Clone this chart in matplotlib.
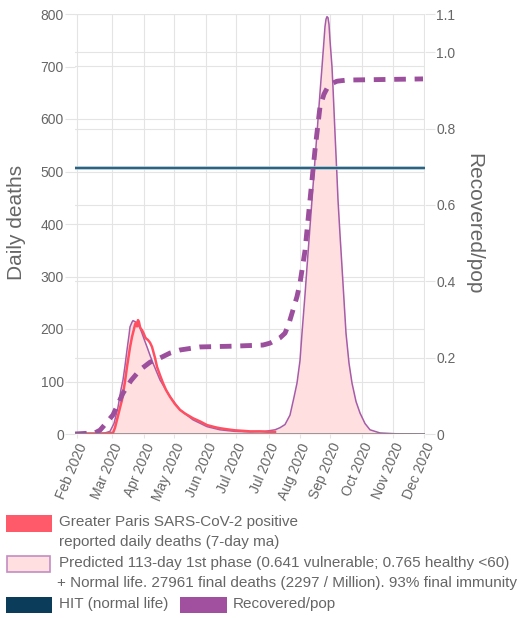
import numpy as np
import matplotlib.pyplot as plt
from matplotlib.patches import Rectangle

plt.rcParams['font.family'] = ['Liberation Sans', 'DejaVu Sans']

# x axis is in days from the first plotted day
tick_days = [2, 37, 69, 99, 131, 161, 194, 225, 255, 287, 318, 349]
tick_labels = ['Feb 2020', 'Mar 2020', 'Apr 2020', 'May 2020', 'Jun 2020', 'Jul 2020',
               'Jul 2020', 'Aug 2020', 'Sep 2020', 'Oct 2020', 'Nov 2020', 'Dec 2020']

# reported daily deaths (7-day ma)
obs_days = [0, 30, 36, 38, 40, 42, 45, 47, 50, 52, 55, 57, 59, 60, 61, 62, 63, 64, 65, 66,
            67, 69, 70, 71, 73, 75, 77, 80, 82, 85, 88, 91, 95, 100, 105, 110, 118, 125,
            132, 140, 145, 152, 160, 168, 175, 185, 195, 200]
obs_deaths = [1, 1, 2, 2, 12, 27, 50, 65, 100, 128, 165, 185, 200, 208, 212, 205, 217, 213, 204, 200,
              198, 190, 185, 182, 179, 174, 166, 145, 128, 112, 97, 84, 71, 57, 46, 39, 30, 24,
              17, 13, 11, 9, 7, 6, 5, 5, 4, 4]

# predicted daily deaths
pred_days = [0, 25, 30, 35, 39, 43, 46, 48, 50, 52, 54, 55, 57, 58, 60, 62, 65, 67, 70, 72,
             75, 78, 85, 95, 105, 118, 132, 145, 160, 175, 190, 200, 205, 210, 215, 219, 222,
             225, 227, 230, 232, 235, 237, 240, 242, 245, 247, 249, 250, 251, 252, 253, 254,
             255, 257, 258, 260, 262, 263, 265, 267, 269, 271, 274, 277, 281, 285, 290, 295,
             305, 320, 350]
pred_deaths = [0.5, 1, 2, 5, 20, 51, 85, 103, 130, 160, 188, 204, 213, 216, 214, 211, 202, 192, 176, 166,
               150, 135, 103, 71, 46, 27, 14, 8, 5, 4, 5, 8, 12, 18, 36, 70, 97, 140, 192, 265, 318,
               395, 446, 522, 573, 650, 699, 750, 776, 790, 795, 793, 780, 750, 699, 660, 573, 490,
               446, 380, 318, 255, 192, 135, 97, 62, 40, 20, 8, 2, 0.5, 0]

# recovered share of population (right axis)
rec_days = [0, 20, 25, 30, 38, 48, 56, 65, 75, 85, 95, 105, 125, 158, 188, 195, 205, 210, 214,
            218, 222, 225, 230, 235, 240, 245, 249, 252, 257, 262, 272, 348]
rec_share = [0, 0.003, 0.01, 0.025, 0.05, 0.107, 0.14, 0.168, 0.188, 0.199, 0.212, 0.22, 0.228, 0.23,
             0.233, 0.238, 0.252, 0.264, 0.29, 0.325, 0.36, 0.395, 0.48, 0.613, 0.744, 0.857, 0.89,
             0.905, 0.918, 0.924, 0.927, 0.93]

hit_days = [0, 350]
hit_deaths = [507, 507]

grey = '#666666'
grid_c = '#e4e4e4'

fig = plt.figure(figsize=(5.32, 6.18), dpi=100)
ax2 = fig.add_axes([75 / 532, 1 - 434 / 618, 350 / 532, 420 / 618])
ax = fig.add_axes([75 / 532, 1 - 434 / 618, 350 / 532, 420 / 618], sharex=ax2)
ax2.yaxis.tick_right()
ax.patch.set_visible(False)

ax.set_xlim(0, 350)
ax.set_ylim(0, 800)
ax2.set_ylim(0, 1.1)

# gridlines, all behind the data
ax2.set_yticks([0, 0.2, 0.4, 0.6, 0.8, 1.0, 1.1])
ax2.set_yticklabels(['0', '0.2', '0.4', '0.6', '0.8', '1.0', '1.1'])
ax2.grid(True, axis='y', color=grid_c, lw=0.8)
ax2.grid(True, axis='x', color=grid_c, lw=0.8)
ax2.set_xticks(tick_days)
for yv in range(100, 900, 100):
    ax2.axhline(yv * 1.1 / 800, color=grid_c, lw=0.8, zorder=0.5)

ax.fill_between(pred_days, pred_deaths, color='#ffdfe0', lw=0, zorder=1)
ax.plot(pred_days, pred_deaths, color='#a65ca8', lw=1.1, zorder=2)
ax.plot(obs_days, obs_deaths, color='#ff4f60', lw=1.8, zorder=3)
ax.plot(hit_days, hit_deaths, color='#9cc3d6', lw=2.6, zorder=4, solid_capstyle='butt')
ax.plot(hit_days, hit_deaths, color='#1f4e6b', lw=1.2, zorder=4, solid_capstyle='butt')
ax.plot(rec_days, rec_share, color='#9c4f9c', lw=3.5, dashes=(2.4, 1.8), zorder=5,
        transform=ax2.transData)

ax.set_yticks(range(0, 900, 100))
ax.set_xticks(tick_days)
ax.set_xticklabels(tick_labels, rotation=67, ha='right', va='top', rotation_mode='anchor')

for a in (ax, ax2):
    for s in a.spines.values():
        s.set_visible(False)
ax.axhline(0, color='#8a8a8a', lw=1.2, zorder=6)

ax.tick_params(axis='y', length=7, color=grid_c, labelcolor=grey, labelsize=10, pad=1)
ax.tick_params(axis='x', length=3, color=grid_c, labelcolor=grey, labelsize=10, pad=2)
ax2.tick_params(axis='y', length=7, color=grid_c, labelcolor=grey, labelsize=10, pad=1)
ax2.tick_params(axis='x', length=0, labelbottom=False)

fig.text(17 / 532, 1 - 222 / 618, 'Daily deaths', rotation=90, ha='center', va='center',
         fontsize=15, color=grey)
fig.text(474 / 532, 1 - 224 / 618, 'Recovered/pop', rotation=270, ha='center', va='center',
         fontsize=15, color=grey)

# legend drawn under the plot
def box(x0, y0, x1, y1, fc, ec='none', lw=0):
    fig.add_artist(Rectangle((x0 / 532, 1 - y1 / 618), (x1 - x0) / 532, (y1 - y0) / 618,
                             transform=fig.transFigure, facecolor=fc, edgecolor=ec, lw=lw))

def label(x, y, s):
    fig.text(x / 532, 1 - y / 618, s, ha='left', va='center', fontsize=11, color=grey)

box(6, 515, 52, 532, '#ff5a6a')
label(59, 522, 'Greater Paris SARS-CoV-2 positive')
label(59, 542, 'reported daily deaths (7-day ma)')
box(7, 556, 50, 572, '#ffdfe0', '#c48cc4', 1.2)
label(59, 563, 'Predicted 113-day 1st phase (0.641 vulnerable; 0.765 healthy <60)')
label(57, 583, '+ Normal life. 27961 final deaths (2297 / Million). 93% final immunity')
box(6, 597, 52, 613, '#0b3d5b')
label(59, 604, 'HIT (normal life)')
box(180, 597, 227, 613, '#a0509e')
label(233, 604, 'Recovered/pop')

fig.savefig('out.png', dpi=100)
